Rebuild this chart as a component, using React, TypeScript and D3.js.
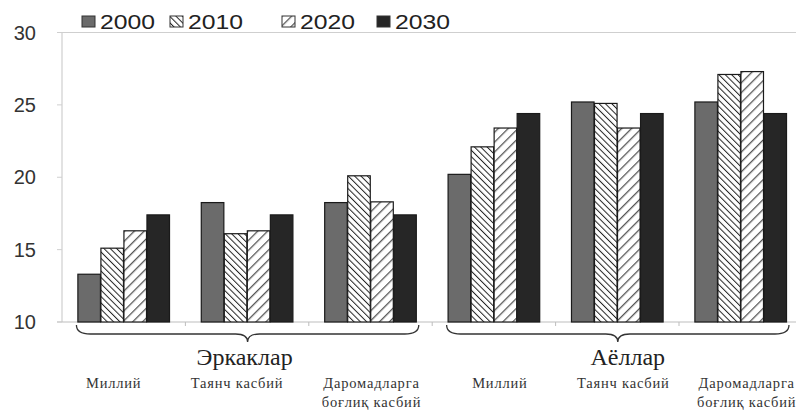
import React from "react";
import * as d3 from "d3";

const categories = ["Э-Миллий", "Э-Таянч", "Э-Даромад", "А-Миллий", "А-Таянч", "А-Даромад"];
const categoryLabels = [
  ["Миллий"],
  ["Таянч касбий"],
  ["Даромадларга", "боғлиқ касбий"],
  ["Миллий"],
  ["Таянч касбий"],
  ["Даромадларга", "боғлиқ касбий"],
];
const groups = ["Эркаклар", "Аёллар"];
const series = ["2000", "2010", "2020", "2030"];
const v2000 = [13.3, 18.25, 18.25, 20.2, 25.2, 25.2];
const v2010 = [15.1, 16.1, 20.1, 22.1, 25.1, 27.1];
const v2020 = [16.3, 16.3, 18.3, 23.4, 23.4, 27.3];
const v2030 = [17.4, 17.4, 17.4, 24.4, 24.4, 24.4];
const yTicks = [10, 15, 20, 25, 30];

const values = [v2000, v2010, v2020, v2030];
const fills = ["#6b6b6b", "url(#hatchDense)", "url(#hatchWide)", "#262626"];

export default function App() {
  const W = 796;
  const H = 411;
  const left = 62;
  const x0 = d3
    .scaleBand<string>()
    .domain(categories)
    .range([left, left + 6 * 123.4])
    .paddingInner(0.25)
    .paddingOuter(0.125);
  const x1 = d3.scaleBand<string>().domain(series).range([0, x0.bandwidth()]).padding(0.02);
  const y = d3.scaleLinear().domain([10, 30]).range([322, 32.5]);
  const step = x0.step();

  const brace = (xa: number, xb: number, yTop: number) => {
    const mid = (xa + xb) / 2;
    const yMid = yTop + 9;
    const yTip = yTop + 17;
    const p = d3.path();
    p.moveTo(xa, yTop);
    p.quadraticCurveTo(xa, yMid, xa + 14, yMid);
    p.lineTo(mid - 12, yMid);
    p.quadraticCurveTo(mid, yMid, mid, yTip);
    p.quadraticCurveTo(mid, yMid, mid + 12, yMid);
    p.lineTo(xb - 14, yMid);
    p.quadraticCurveTo(xb, yMid, xb, yTop);
    return p.toString();
  };

  const legendX = [82, 170, 282, 377];
  const sans = "Liberation Sans, Arial, sans-serif";
  const serif = "Liberation Serif, Times New Roman, serif";

  return (
    <svg width={W} height={H} style={{ position: "absolute", left: 0, top: 0, background: "#fff" }}>
      <defs>
        <pattern id="hatchDense" patternUnits="userSpaceOnUse" width="4.5" height="4.5" patternTransform="rotate(-45)">
          <rect width="4.5" height="4.5" fill="#fff" />
          <line x1="0" y1="0" x2="0" y2="4.5" stroke="#222" strokeWidth="2" />
        </pattern>
        <pattern id="hatchWide" patternUnits="userSpaceOnUse" width="7" height="7" patternTransform="rotate(45)">
          <rect width="7" height="7" fill="#fff" />
          <line x1="0" y1="0" x2="0" y2="7" stroke="#555" strokeWidth="2.6" />
        </pattern>
      </defs>
      <rect width={W} height={H} fill="#fff" />

      {/* axes */}
      <line x1={left} x2={W} y1={y(30)} y2={y(30)} stroke="#cfcfcf" strokeWidth={1} />
      <line x1={left} x2={left} y1={y(30)} y2={y(10)} stroke="#cfcfcf" strokeWidth={1.2} />
      <line x1={left - 5} x2={W} y1={y(10)} y2={y(10)} stroke="#bdbdbd" strokeWidth={1.2} />
      {categories.map((c, i) => (
        <line key={c} x1={left + step * (i + 1)} x2={left + step * (i + 1)} y1={y(10)} y2={y(10) + 4} stroke="#bdbdbd" />
      ))}
      {yTicks.map((t) => (
        <g key={t}>
          <line x1={left - 5} x2={left} y1={y(t)} y2={y(t)} stroke="#cfcfcf" />
          <text x={36} y={y(t)} dy="0.35em" textAnchor="end" fontFamily={sans} fontSize={20} fill="#333">
            {t}
          </text>
        </g>
      ))}

      {/* bars */}
      {categories.map((c, i) => (
        <g key={c} transform={`translate(${x0(c)},0)`}>
          {series.map((s, k) => (
            <rect
              key={s}
              x={x1(s)}
              y={y(values[k][i])}
              width={x1.bandwidth()}
              height={y(10) - y(values[k][i])}
              fill={fills[k]}
              stroke="#1a1a1a"
              strokeWidth={1.2}
            />
          ))}
        </g>
      ))}

      {/* braces & group labels */}
      {groups.map((g, gi) => {
        const xa = (x0(categories[gi * 3]) as number) - 1;
        const xb = (x0(categories[gi * 3 + 2]) as number) + x0.bandwidth() + 2;
        return (
          <g key={g}>
            <path d={brace(xa, xb, 325)} fill="none" stroke="#333" strokeWidth={1.3} />
            <text x={(xa + xb) / 2 + (gi === 1 ? 10 : -3)} y={365} textAnchor="middle" fontFamily={serif} fontSize={24} fill="#222">
              {g}
            </text>
          </g>
        );
      })}

      {/* category labels */}
      {categories.map((c, i) => (
        <text key={c} textAnchor="middle" fontFamily={serif} fontSize={14.5} letterSpacing={0.8} fill="#333">
          {categoryLabels[i].map((l, j) => (
            <tspan key={j} x={(x0(c) as number) + x0.bandwidth() / 2 + (i < 2 ? -10 : i < 3 ? 1 : 6)} y={388 + j * 19}>
              {l}
            </tspan>
          ))}
        </text>
      ))}

      {/* legend */}
      {series.map((s, k) => (
        <g key={s}>
          <rect x={legendX[k]} y={16} width={13} height={11} fill={fills[k]} stroke="#333" strokeWidth={1} />
          <text
            x={legendX[k] + 18}
            y={22}
            dy="0.36em"
            fontFamily={sans}
            fontSize={20}
            textLength={55}
            lengthAdjust="spacingAndGlyphs"
            fill="#222"
          >
            {s}
          </text>
        </g>
      ))}
    </svg>
  );
}
